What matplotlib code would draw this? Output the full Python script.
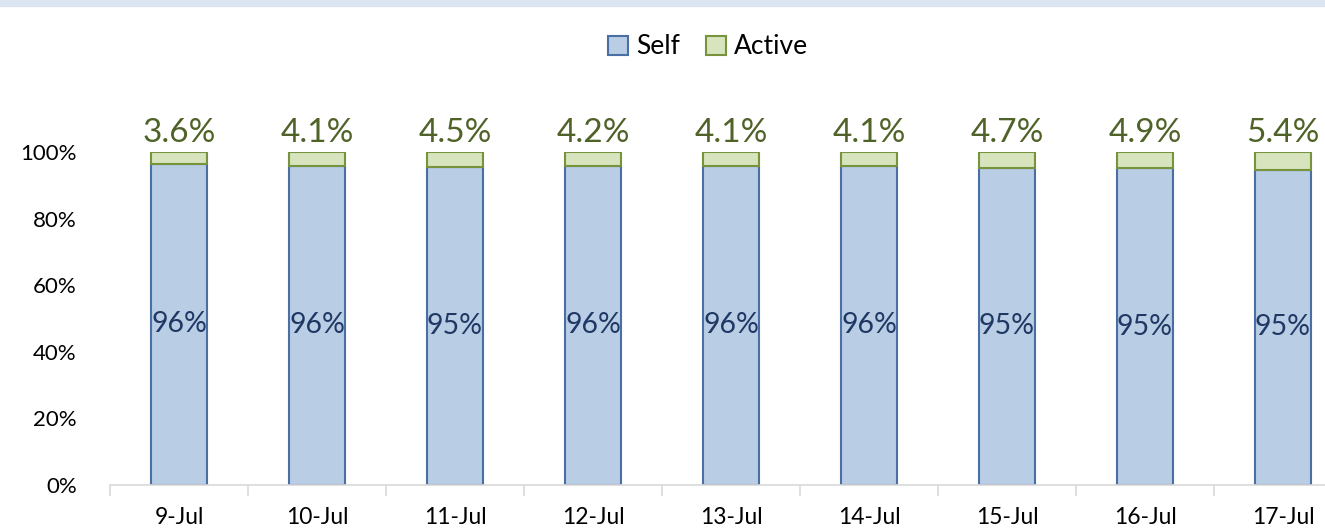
import matplotlib
matplotlib.use('Agg')
from matplotlib import pyplot as plt
from matplotlib.patches import Rectangle
import numpy as np

days = ['9-Jul', '10-Jul', '11-Jul', '12-Jul', '13-Jul', '14-Jul', '15-Jul', '16-Jul', '17-Jul']
active = [3.6, 4.1, 4.54, 4.2, 4.1, 4.1, 4.7, 4.9, 5.4]
self_share = [100 - a for a in active]

plt.rcParams['font.family'] = ['Lato', 'DejaVu Sans']

fig = plt.figure(figsize=(13.25, 5.3), dpi=100)
fig.patches.append(Rectangle((0, 1 - 6/530), 1, 6/530, transform=fig.transFigure,
                             color='#dce6f2', zorder=0))

# axes deliberately runs past the right edge, like the cropped original
ax = fig.add_axes([110/1325, 45/530, 1242/1325, 333/530])
x = np.arange(len(days))
w = 56/138

b1 = ax.bar(x, self_share, w, color='#b9cde5', edgecolor='#4a6fa5', linewidth=1.5, label='Self')
b2 = ax.bar(x, active, w, bottom=self_share, color='#d7e4bd', edgecolor='#77933c', linewidth=1.5, label='Active')

for i in range(len(days)):
    ax.text(x[i], self_share[i] / 2, '%.0f%%' % self_share[i], ha='center', va='center',
            color='#1f3864', fontsize=20.5)
    ax.text(x[i], 100 + 1.2, '%.1f%%' % active[i], ha='center', va='bottom',
            color='#4f6228', fontsize=24, clip_on=False)

ax.set_xlim(-0.5, len(days) - 0.5)
ax.set_ylim(0, 100)
ax.set_yticks(np.arange(0, 101, 20))
ax.set_yticklabels(['%d%%' % v for v in range(0, 101, 20)])
ax.set_xticks(x)
ax.set_xticklabels(days)
ax.set_xticks(np.arange(-0.5, len(days), 1), minor=True)
ax.tick_params(axis='x', which='major', length=0, pad=16, labelsize=16.5)
ax.tick_params(axis='x', which='minor', length=8, color='#d9d9d9', width=1.2)
ax.tick_params(axis='y', length=0, pad=24, labelsize=16)
for s in ['top', 'right', 'left']:
    ax.spines[s].set_visible(False)
ax.spines['bottom'].set_color('#d9d9d9')
ax.spines['bottom'].set_linewidth(1.2)

fig.legend(handles=[b1, b2], loc='center', bbox_to_anchor=(708/1325, 1 - 47/530), ncol=2,
           frameon=False, fontsize=19, handlelength=0.75, handleheight=0.75,
           handletextpad=0.3, columnspacing=1.0)

fig.savefig('out.png', dpi=100)
